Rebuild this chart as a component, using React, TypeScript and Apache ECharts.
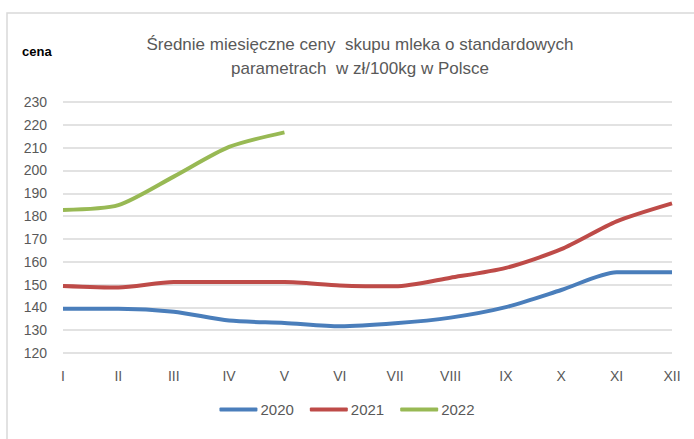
import React, { useEffect, useRef } from "react";
import * as echarts from "echarts";

const months = ["I", "II", "III", "IV", "V", "VI", "VII", "VIII", "IX", "X", "XI", "XII"];
const s2020 = [139.4, 139.4, 138.1, 134.2, 133.2, 131.7, 133.0, 135.5, 140.1, 147.6, 155.4, 155.4];
const s2021 = [149.4, 148.7, 151.1, 151.1, 151.1, 149.6, 149.2, 153.0, 157.3, 165.5, 177.7, 185.6];
const s2022 = [182.7, 184.8, 197.3, 210.3, 216.7];
const yTicks = { min: 120, max: 230, interval: 10 };

export default function App() {
  const ref = useRef<HTMLDivElement>(null);
  useEffect(() => {
    const chart = echarts.init(ref.current!, null, { renderer: "svg" });
    const font = "'Liberation Sans', Arial, sans-serif";
    chart.setOption({
      animation: false,
      backgroundColor: "#ffffff",
      textStyle: { fontFamily: font },
      graphic: [
        {
          type: "rect",
          shape: { x: 7, y: 13, width: 720, height: 460 },
          style: { fill: "none", stroke: "#d9d9d9", lineWidth: 1.5 },
          silent: true,
        },
        {
          type: "text",
          left: 22,
          top: 45,
          style: { text: "cena", fontFamily: font, fontSize: 13, fontWeight: "bold", fill: "#000000" },
        },
      ],
      title: {
        text: "Średnie miesięczne ceny  skupu mleka o standardowych\nparametrach  w zł/100kg w Polsce",
        left: 355,
        textAlign: "center",
        top: 27,
        textStyle: { fontFamily: font, fontSize: 17, fontWeight: "normal", color: "#595959", lineHeight: 24 },
      },
      legend: {
        bottom: 17,
        left: "center",
        itemWidth: 38,
        itemHeight: 4,
        itemGap: 16,
        icon: "roundRect",
        textStyle: { color: "#595959", fontSize: 15, fontFamily: font, padding: [0, 0, 0, -2] },
        data: ["2020", "2021", "2022"],
      },
      grid: { left: 63, right: 22, top: 102, bottom: 86, containLabel: false },
      xAxis: {
        type: "category",
        data: months,
        boundaryGap: false,
        axisLine: { show: false },
        axisTick: { show: false },
        axisLabel: { color: "#595959", fontSize: 14, margin: 16, fontFamily: font },
        splitLine: { show: false },
      },
      yAxis: {
        type: "value",
        min: yTicks.min,
        max: yTicks.max,
        interval: yTicks.interval,
        axisLine: { show: false },
        axisTick: { show: false },
        axisLabel: { color: "#595959", fontSize: 14, margin: 16, fontFamily: font },
        splitLine: { lineStyle: { color: "#d9d9d9", width: 1.5 } },
      },
      series: [
        {
          name: "2020",
          type: "line",
          data: s2020,
          smooth: 0.25,
          symbol: "none",
          lineStyle: { width: 4, color: "#4a7ebb" },
          itemStyle: { color: "#4a7ebb" },
        },
        {
          name: "2021",
          type: "line",
          data: s2021,
          smooth: 0.25,
          symbol: "none",
          lineStyle: { width: 4, color: "#be4b48" },
          itemStyle: { color: "#be4b48" },
        },
        {
          name: "2022",
          type: "line",
          data: s2022,
          smooth: 0.25,
          symbol: "none",
          lineStyle: { width: 4, color: "#98b954" },
          itemStyle: { color: "#98b954" },
        },
      ],
    });
    return () => chart.dispose();
  }, []);
  return (
    <div
      ref={ref}
      style={{ position: "absolute", left: 0, top: 0, width: 694, height: 439 }}
    />
  );
}
